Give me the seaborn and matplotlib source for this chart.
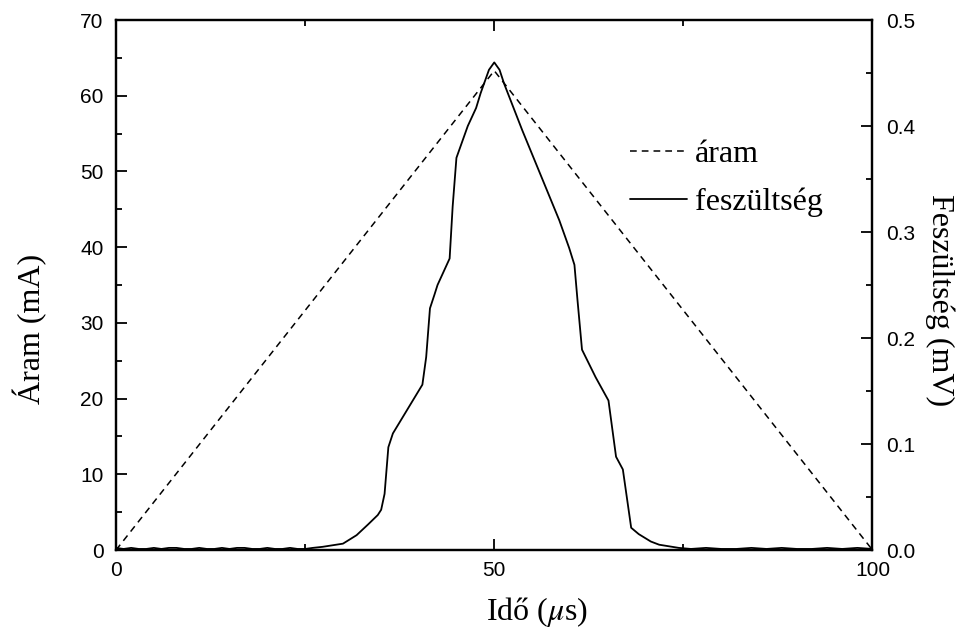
import matplotlib
matplotlib.use("Agg")
import matplotlib.pyplot as plt
from matplotlib.ticker import MultipleLocator, FixedLocator, FormatStrFormatter
from matplotlib.lines import Line2D
import seaborn as sns
import pandas as pd

# current ramp (mA) vs time (µs)
ido_aram = [0, 50, 100]
aram = [0.0, 63.3, 0.0]

# measured voltage (mV) vs time (µs)
ido_fesz = [0, 1, 2, 3, 4, 5, 6, 7, 8, 9, 10, 11, 12, 13, 14, 15, 16, 17, 18, 19,
            20, 21, 22, 23, 24, 25, 26, 27.3, 30.0, 31.8, 33.3, 34.6, 35.05, 35.5,
            36.0, 36.6, 40.5, 41.0, 41.5, 42.1, 42.5, 44.1, 44.5, 45.0, 45.6, 46.5,
            47.6, 48.2, 49.3, 50.0, 50.7, 51.3, 53.7, 58.6, 59.9, 60.6, 61.0, 61.6,
            63.4, 65.1, 66.1, 67.0, 68.1, 69.1, 70.7, 71.8, 74.4, 76, 78, 80, 82,
            84, 86, 88, 90, 92, 94, 96, 98, 100]
feszultseg = [0.002, 0.001, 0.002, 0.001, 0.001, 0.002, 0.001, 0.002, 0.002, 0.001,
              0.001, 0.002, 0.001, 0.001, 0.002, 0.001, 0.002, 0.002, 0.001, 0.001,
              0.002, 0.001, 0.001, 0.002, 0.001, 0.001, 0.002, 0.003, 0.006, 0.014,
              0.024, 0.033, 0.038, 0.053, 0.097, 0.110, 0.156, 0.182, 0.228, 0.241,
              0.250, 0.275, 0.324, 0.370, 0.382, 0.400, 0.417, 0.431, 0.453, 0.460,
              0.453, 0.440, 0.396, 0.311, 0.285, 0.269, 0.236, 0.189, 0.163, 0.141,
              0.088, 0.076, 0.021, 0.015, 0.008, 0.005, 0.002, 0.001, 0.002, 0.001,
              0.001, 0.002, 0.001, 0.002, 0.001, 0.001, 0.002, 0.001, 0.002, 0.001]

df_aram = pd.DataFrame({"ido": ido_aram, "aram": aram})
df_fesz = pd.DataFrame({"ido": ido_fesz, "fesz": feszultseg})

sns.set_style("ticks", {"axes.edgecolor": "black", "text.color": "black",
                        "axes.labelcolor": "black", "xtick.color": "black",
                        "ytick.color": "black"})
plt.rcParams["font.family"] = ["Liberation Sans", "DejaVu Sans"]
plt.rcParams["mathtext.fontset"] = "stix"

fig = plt.figure(figsize=(9.63, 6.33), dpi=100)
ax = fig.add_axes([0.1205, 0.1311, 0.7855, 0.8373])
ax2 = ax.twinx()

dash = (0, (4.4, 3.3))
sns.lineplot(data=df_aram, x="ido", y="aram", ax=ax, color="black",
             linewidth=1.1, linestyle=dash)
sns.lineplot(data=df_fesz, x="ido", y="fesz", ax=ax2, color="black",
             linewidth=1.3)

ax.set_xlim(0, 100)
ax.set_ylim(0, 70)
ax2.set_ylim(0, 0.5)

ax.xaxis.set_major_locator(FixedLocator([0, 50, 100]))
ax.xaxis.set_minor_locator(FixedLocator([25, 75]))
ax.yaxis.set_major_locator(MultipleLocator(10))
ax.yaxis.set_minor_locator(MultipleLocator(5))
ax2.yaxis.set_major_locator(MultipleLocator(0.1))
ax2.yaxis.set_minor_locator(MultipleLocator(0.05))
ax2.yaxis.set_major_formatter(FormatStrFormatter("%.1f"))

tick_font = 15
ax.tick_params(axis="x", which="major", direction="in", length=8, width=1.3,
               top=True, labelsize=tick_font, pad=8, colors="black")
ax.tick_params(axis="x", which="minor", direction="in", length=4.5, width=1.3,
               top=True, colors="black")
ax.tick_params(axis="y", which="major", direction="in", length=8, width=1.3,
               right=False, labelsize=tick_font, pad=9, colors="black")
ax.tick_params(axis="y", which="minor", direction="in", length=4.5, width=1.3,
               right=False, colors="black")
ax2.tick_params(axis="y", which="major", direction="in", length=8, width=1.3,
                labelsize=tick_font, pad=10, colors="black")
ax2.tick_params(axis="y", which="minor", direction="in", length=4.5, width=1.3,
                colors="black")

for a in (ax, ax2):
    for s in a.spines.values():
        s.set_linewidth(1.6)
        s.set_color("black")
        s.set_visible(True)

serif = ["Liberation Serif", "DejaVu Serif"]
label_size = 23
ax.set_xlabel("Idő ($\\mu$s)", fontsize=label_size, family=serif,
              ha="center", va="center", color="black")
ax.xaxis.set_label_coords(0.556, -0.117)
ax.set_ylabel("Áram (mA)", fontsize=label_size, family=serif,
              ha="center", va="center", color="black")
ax.yaxis.set_label_coords(-0.113, 0.417)
ax2.set_ylabel("Feszültség (mV)", fontsize=label_size, family=serif,
               rotation=270, ha="center", va="center", color="black")
ax2.yaxis.set_label_coords(1.0885, 0.472)

if ax.get_legend():
    ax.get_legend().remove()
if ax2.get_legend():
    ax2.get_legend().remove()

handles = [Line2D([], [], color="black", linewidth=1.1, linestyle=dash),
           Line2D([], [], color="black", linewidth=1.3)]
ax2.legend(handles, ["áram", "feszültség"], loc="upper left",
           bbox_to_anchor=(0.679, 0.774), frameon=False,
           prop={"family": serif, "size": label_size}, handlelength=1.8,
           handletextpad=0.25, labelspacing=0.57, borderpad=0, borderaxespad=0,
           labelcolor="black")

fig.savefig("out.png", dpi=100)
